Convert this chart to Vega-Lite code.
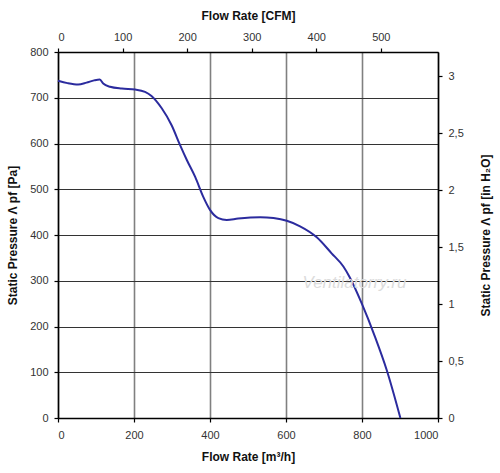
{
  "$schema": "https://vega.github.io/schema/vega-lite/v6.json",
  "width": 380,
  "height": 366,
  "autosize": {"type": "none"},
  "padding": {"left": 58, "top": 52, "right": 62, "bottom": 55},
  "background": "white",
  "config": {
    "view": {"stroke": null},
    "font": "Liberation Sans",
    "axis": {
      "labelFont": "Liberation Sans",
      "labelFontSize": 11,
      "labelColor": "#333333",
      "titleFont": "Liberation Sans",
      "titleFontSize": 12,
      "titleFontWeight": "bold",
      "titleColor": "#111111",
      "domainColor": "#000000",
      "domainWidth": 1.5,
      "tickColor": "#000000",
      "tickSize": 4,
      "tickWidth": 1.2,
      "labelPadding": 6
    }
  },
  "layer": [
    {
      "layer": [
        {
          "data": {
            "values": [
              {"Q": 0, "P": 737},
              {"Q": 25, "P": 732},
              {"Q": 53, "P": 729},
              {"Q": 75, "P": 733},
              {"Q": 95, "P": 738},
              {"Q": 110, "P": 740},
              {"Q": 119, "P": 731},
              {"Q": 137, "P": 724},
              {"Q": 168, "P": 720},
              {"Q": 203, "P": 718},
              {"Q": 229, "P": 713},
              {"Q": 246, "P": 704},
              {"Q": 273, "P": 677},
              {"Q": 299, "P": 640},
              {"Q": 321, "P": 597},
              {"Q": 339, "P": 564},
              {"Q": 361, "P": 527},
              {"Q": 382, "P": 484},
              {"Q": 400, "P": 455},
              {"Q": 422, "P": 437},
              {"Q": 444, "P": 433},
              {"Q": 474, "P": 436},
              {"Q": 532, "P": 439},
              {"Q": 567, "P": 437},
              {"Q": 602, "P": 431},
              {"Q": 637, "P": 419},
              {"Q": 681, "P": 395},
              {"Q": 720, "P": 360},
              {"Q": 751, "P": 331},
              {"Q": 768, "P": 307},
              {"Q": 799, "P": 251},
              {"Q": 834, "P": 178},
              {"Q": 865, "P": 105},
              {"Q": 901, "P": 0}
            ]
          },
          "mark": {"type": "line", "color": "#2b2b9e", "strokeWidth": 2, "interpolate": "monotone"},
          "encoding": {
            "x": {
              "field": "Q",
              "type": "quantitative",
              "scale": {"domain": [0, 1000], "nice": false},
              "axis": {
                "orient": "bottom",
                "values": [0, 200, 400, 600, 800, 1000],
                "format": "d",
                "title": "Flow Rate [m³/h]",
                "titlePadding": 11,
                "labelPadding": 7,
                "grid": true,
                "gridColor": "#808080",
                "gridWidth": 1.6
              }
            },
            "y": {
              "field": "P",
              "type": "quantitative",
              "scale": {"domain": [0, 800], "nice": false},
              "axis": {
                "orient": "left",
                "values": [0, 100, 200, 300, 400, 500, 600, 700, 800],
                "title": "Static Pressure Λ pf [Pa]",
                "titlePadding": 10,
                "grid": true,
                "gridColor": "#333333",
                "gridWidth": 1
              }
            }
          }
        },
        {
          "data": {"values": [{"Q": 780, "P": 295, "label": "Ventilatorry.ru"}]},
          "mark": {"type": "text", "font": "Liberation Sans", "fontSize": 17, "fontStyle": "italic", "color": "#dcdcdc"},
          "encoding": {
            "x": {"field": "Q", "type": "quantitative"},
            "y": {"field": "P", "type": "quantitative"},
            "text": {"field": "label"}
          }
        }
      ]
    },
    {
      "data": {"values": [{"cfm": 0, "inh2o": 0}, {"cfm": 588.58, "inh2o": 3.2117}]},
      "mark": {"type": "point", "opacity": 0},
      "encoding": {
        "x": {
          "field": "cfm",
          "type": "quantitative",
          "scale": {"domain": [0, 588.58], "nice": false},
          "axis": {
            "orient": "top",
            "values": [0, 100, 200, 300, 400, 500],
            "title": "Flow Rate [CFM]",
            "titlePadding": 9,
            "grid": false
          }
        },
        "y": {
          "field": "inh2o",
          "type": "quantitative",
          "scale": {"domain": [0, 3.2117], "nice": false},
          "axis": {
            "orient": "right",
            "values": [0, 0.5, 1, 1.5, 2, 2.5, 3],
            "labelExpr": "replace(format(datum.value, '.1~f'), '.', ',')",
            "title": "Static Pressure Λ pf [in H₂O]",
            "titleAngle": 270,
            "titlePadding": 29,
            "grid": false
          }
        }
      }
    }
  ],
  "resolve": {"scale": {"x": "independent", "y": "independent"}}
}
